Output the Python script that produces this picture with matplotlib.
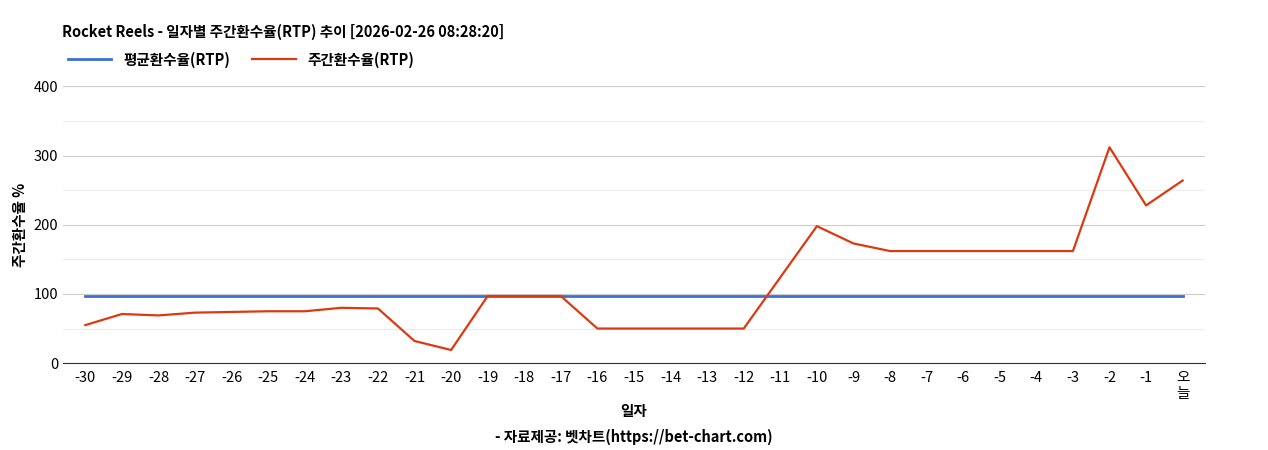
import matplotlib
matplotlib.use("Agg")
import matplotlib.pyplot as plt

plt.rcParams['font.family'] = ['Noto Sans CJK KR', 'DejaVu Sans']

labels = [str(i) for i in range(-30, 0)] + ["오\n늘"]
avg_rtp = [97] * 31
weekly_rtp = [55, 71, 69, 73, 74, 75, 75, 80, 79, 32, 19, 97, 97, 97, 50, 50, 50, 50, 50,
              124, 198, 173, 162, 162, 162, 162, 162, 162, 312, 228, 264]

fig = plt.figure(figsize=(12.68, 4.5), dpi=100)
ax = fig.add_axes([0.050, 0.193, 0.900, 0.615])
x = list(range(len(labels)))
ax.plot(x, avg_rtp, color="#3b6fd4", lw=2, label="평균환수율(RTP)")
ax.plot(x, weekly_rtp, color="#dc3912", lw=1.6, label="주간환수율(RTP)")
ax.set_xlim(-0.6, 30.6)
ax.set_ylim(0, 400)
ax.set_yticks([0, 100, 200, 300, 400])
ax.set_yticks([50, 150, 250, 350], minor=True)
ax.grid(axis='y', which='major', color="#cccccc", lw=0.8)
ax.grid(axis='y', which='minor', color="#ebebeb", lw=0.8)
ax.set_axisbelow(True)
ax.set_xticks(x)
ax.set_xticklabels(labels, fontsize=10.5, va='top', linespacing=1.1)
ax.tick_params(axis='y', labelsize=10.5, length=0)
ax.tick_params(axis='x', length=0, pad=6)
ax.tick_params(axis='y', which='minor', length=0)
for s in ['top', 'right', 'left']:
    ax.spines[s].set_visible(False)
ax.spines['bottom'].set_color("#333333")
ax.set_ylabel("주간환수율 %", fontsize=10.5, fontweight='bold')
ax.set_xlabel("일자", fontsize=10.5, fontweight='bold', labelpad=2)
fig.text(0.049, 0.93, "Rocket Reels - 일자별 주간환수율(RTP) 추이 [2026-02-26 08:28:20]",
         fontsize=10.5, fontweight='bold', va='center')
fig.legend(loc='upper left', bbox_to_anchor=(0.043, 0.915), ncol=2, frameon=False,
           fontsize=10.5, handlelength=3, columnspacing=1.5, prop={'weight': 'bold', 'size': 10.5})
fig.text(0.5, 0.03, "- 자료제공: 벳차트(https://bet-chart.com)", fontsize=10.5,
         fontweight='bold', ha='center', va='center')
fig.savefig("out.png")
